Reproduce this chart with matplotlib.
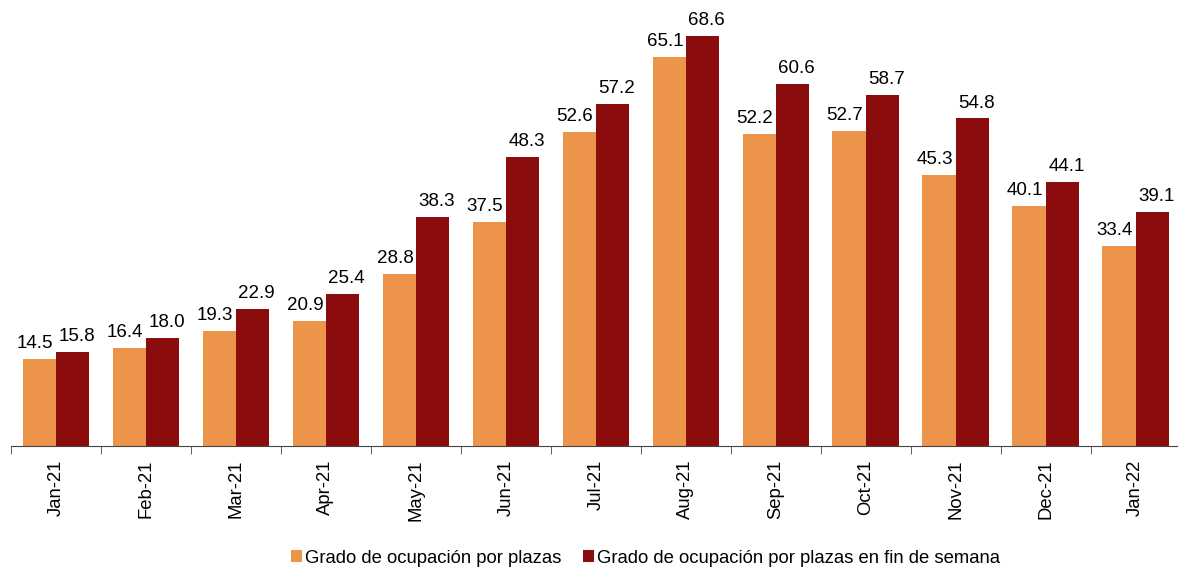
import matplotlib.pyplot as plt
import numpy as np

plt.rcParams['font.family'] = ['Liberation Sans', 'DejaVu Sans']

months = ['Jan-21', 'Feb-21', 'Mar-21', 'Apr-21', 'May-21', 'Jun-21', 'Jul-21',
          'Aug-21', 'Sep-21', 'Oct-21', 'Nov-21', 'Dec-21', 'Jan-22']
plazas = [14.5, 16.4, 19.3, 20.9, 28.8, 37.5, 52.6, 65.1, 52.2, 52.7, 45.3, 40.1, 33.4]
plazas_finde = [15.8, 18.0, 22.9, 25.4, 38.3, 48.3, 57.2, 68.6, 60.6, 58.7, 54.8, 44.1, 39.1]

fig = plt.figure(figsize=(11.78, 5.68), dpi=100)
ax = fig.add_axes([0.0093, 0.2148, 0.993, 0.785])

x = np.arange(len(months))
w = 0.37
b1 = ax.bar(x - w / 2, plazas, w, color='#ED944B', label='Grado de ocupación por plazas')
b2 = ax.bar(x + w / 2, plazas_finde, w, color='#8B0C0C',
            label='Grado de ocupación por plazas en fin de semana')

# labels nudged apart a little, as in the source chart
for bars, dx in ((b1, -3), (b2, 3)):
    for r in bars:
        ax.annotate(f'{r.get_height():.1f}', (r.get_x() + r.get_width() / 2, r.get_height()),
                    xytext=(dx, 5), textcoords='offset points', ha='center', va='bottom',
                    fontsize=13.5)

ax.set_xlim(-0.5, len(months) - 0.5)
ax.set_ylim(0, 74.6)
ax.set_xticks(x)
ax.set_xticklabels(months, rotation=90, fontsize=13.3)
ax.tick_params(axis='x', which='major', length=0, pad=10)
ax.set_xticks(np.arange(len(months) + 1) - 0.5, minor=True)
ax.tick_params(axis='x', which='minor', length=6, color='#444444')
ax.set_yticks([])
for s in ['top', 'right', 'left']:
    ax.spines[s].set_visible(False)
ax.spines['bottom'].set_color('#444444')

fig.legend(loc='center', bbox_to_anchor=(0.548, 0.017), ncol=2, frameon=False,
           fontsize=13.3, handlelength=0.6, handleheight=0.6, handletextpad=0.15,
           columnspacing=1.2, borderaxespad=0)

fig.savefig('out.png', dpi=100)
